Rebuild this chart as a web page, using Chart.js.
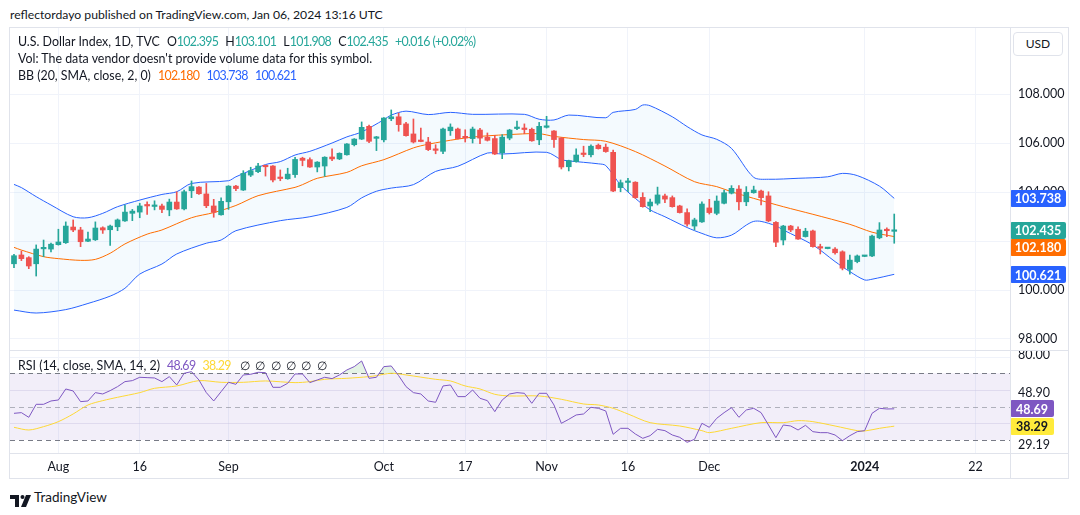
<!DOCTYPE html>
<html>
<head>
<meta charset="utf-8">
<script src="https://cdn.jsdelivr.net/npm/chart.js@4.4.1/dist/chart.umd.min.js"></script>
<style>
  body { margin: 0; width: 1080px; height: 515px; background: #fff; position: relative; overflow: hidden;
         font-family: Lato, "Noto Sans", sans-serif; color: #131722; }
  .abs { position: absolute; white-space: nowrap; }
  #frame { left: 9px; top: 27px; width: 1060px; height: 452px; border: 1px solid #e0e3eb; box-sizing: border-box; }
  #mainCanvas { position: absolute; left: 10px; top: 28px; }
  #rsiCanvas { position: absolute; left: 10px; top: 350px; }
  .hline { position: absolute; height: 1px; background: #e0e3eb; }
  .vline { position: absolute; width: 1px; background: #e0e3eb; }
  .legend { font-size: 12.4px; line-height: 16px; }
  .legend span { margin-left: 7px; }
  .legend span:first-child { margin-left: 0; }
  .n { letter-spacing: -0.65px; font-style: normal; }
  .g { color: #26a69a; }
  #usd { left: 1013px; top: 32px; width: 50px; height: 24px; border: 1px solid #e0e3eb; border-radius: 4px;
         box-sizing: border-box; font-size: 12px; line-height: 22px; text-align: center; background: #fff; }
</style>
</head>
<body>
<div class="abs" style="left:10px;top:7px;font-size:12.2px;">reflectordayo published on TradingView.com, Jan 06, 2024 13:16 UTC</div>
<div id="frame" class="abs"></div>
<canvas id="mainCanvas" width="1058" height="322"></canvas>
<canvas id="rsiCanvas" width="1058" height="128"></canvas>
<div class="hline" style="left:9px;top:350px;width:1060px;"></div>
<div class="hline" style="left:9px;top:453px;width:1060px;"></div>
<div class="vline" style="left:1010px;top:28px;height:450px;"></div>
<div id="usd" class="abs">USD</div>

<div class="abs legend" style="left:18px;top:34px;"><span>U.S. Dollar Index, 1D, TVC</span><span>O<i class="g n">102.395</i></span><span>H<i class="g n">103.101</i></span><span>L<i class="g n">101.908</i></span><span>C<i class="g n">102.435</i></span><span class="g n">+0.016 (+0.02%)</span></div>
<div class="abs legend" style="left:18px;top:51px;">Vol: The data vendor doesn't provide volume data for this symbol.</div>
<div class="abs legend" style="left:18px;top:68px;"><span>BB (20, SMA, close, 2, 0)</span><span class="n" style="color:#ff6d00">102.180</span><span class="n" style="color:#2962ff">103.738</span><span class="n" style="color:#2962ff">100.621</span></div>
<div class="abs legend" style="left:18px;top:358px;"><span>RSI (14, close, SMA, 14, 2)</span><span class="n" style="color:#7e57c2">48.69</span><span class="n" style="color:#fdd835">38.29</span><span style="margin-left:9px;letter-spacing:1.1px">∅ ∅ ∅ ∅ ∅ ∅</span></div>

<div class="abs" style="left:10px;top:491px;">
  <svg width="22" height="12" viewBox="0 0 22 12">
    <path d="M0 0h9v12H5V4H0z" fill="#131722"/>
    <circle cx="12.5" cy="2" r="2" fill="#131722"/>
    <path d="M16 0h5l-5 12h-5z" fill="#131722"/>
  </svg>
</div>
<div class="abs" style="left:34px;top:489px;font-size:13.5px;">TradingView</div>

<script>
// --- data ---
const opens  = [101.07,101.43,101.32,101.07,101.68,101.67,101.85,101.93,102.57,102.45,101.99,102.05,102.54,102.46,102.58,102.82,103.13,103.18,103.46,103.41,
                103.43,103.27,103.59,103.31,104.05,104.20,103.92,103.43,103.07,103.60,104.24,104.08,104.69,104.83,105.07,105.06,104.58,104.54,104.71,105.38,
                105.32,105.02,105.06,105.43,105.35,105.52,105.93,106.16,106.68,106.19,106.13,106.99,107.07,106.78,106.37,106.08,106.04,105.73,105.66,106.50,
                106.57,106.25,106.18,106.53,106.24,106.18,105.60,106.20,106.59,106.58,106.56,106.13,106.64,106.49,106.20,105.03,105.24,105.56,105.52,105.91,
                105.83,105.62,104.18,104.39,104.40,103.78,103.43,103.54,103.84,103.77,103.43,103.16,102.61,102.78,103.35,103.13,103.54,103.95,104.12,103.60,
                103.97,104.04,103.84,102.76,102.04,102.61,102.48,102.18,102.41,101.74,101.69,101.67,101.56,100.84,101.16,101.37,101.39,102.13,102.45,102.395];
const highs  = [101.46,101.59,101.36,101.84,102.04,101.92,102.48,102.78,102.86,102.56,102.36,102.78,102.58,102.65,102.90,103.47,103.29,103.54,103.60,103.64,
                103.51,103.71,104.01,104.08,104.45,104.22,104.35,103.70,103.76,104.26,104.27,104.87,105.01,105.17,105.09,105.08,104.90,104.97,105.42,105.42,
                105.39,105.24,105.44,105.76,105.60,105.98,106.18,106.86,106.73,106.27,107.04,107.35,107.22,106.84,106.98,106.61,106.23,105.93,106.61,106.78,
                106.61,106.54,106.65,106.60,106.41,106.31,106.34,106.56,106.89,106.78,106.61,106.84,107.09,106.51,106.22,105.30,105.76,105.87,105.93,105.96,
                105.96,105.71,104.49,104.56,104.42,103.97,103.71,104.20,103.92,103.84,103.46,103.31,102.93,103.60,103.70,103.84,104.08,104.26,104.26,104.22,
                104.24,104.08,104.01,102.79,102.64,102.64,102.58,102.52,102.45,101.87,101.72,101.73,101.60,101.43,101.43,101.40,102.24,102.75,102.54,103.101];
const lows   = [100.91,101.20,100.87,100.57,101.36,101.55,101.83,101.90,102.38,101.77,101.97,102.02,102.31,101.82,102.42,102.80,102.83,102.95,103.09,103.27,
                103.16,103.03,103.29,103.27,103.77,103.90,103.36,102.97,103.05,103.29,104.05,104.06,104.63,104.79,104.65,104.41,104.46,104.52,104.60,105.07,
                105.00,104.82,104.64,105.28,105.32,105.50,105.88,106.14,106.01,105.69,106.04,106.91,106.48,106.28,106.00,106.05,105.69,105.56,105.56,106.31,
                106.16,106.04,106.00,105.97,106.08,105.53,105.36,106.13,106.54,106.38,106.07,105.93,106.61,105.82,104.94,104.86,105.22,105.44,105.43,105.75,
                105.62,104.01,104.01,104.01,103.74,103.38,103.20,103.47,103.56,103.38,103.14,102.61,102.45,102.76,103.10,103.07,103.51,103.92,103.27,103.44,
                103.95,103.47,102.79,101.77,101.84,102.38,102.06,102.16,101.75,101.47,101.68,101.46,100.82,100.65,101.11,101.36,101.36,102.09,102.18,101.908];
const closes = [101.40,101.28,100.98,101.67,101.72,101.87,101.96,102.61,102.45,101.97,102.08,102.53,102.45,102.61,102.86,103.18,103.22,103.43,103.43,103.44,
                103.29,103.59,103.31,104.01,104.22,103.93,103.44,103.17,103.62,104.24,104.14,104.76,104.87,105.06,105.03,104.49,104.55,104.73,105.33,105.29,
                105.02,105.22,105.42,105.35,105.58,105.96,106.16,106.64,106.07,106.22,107.02,107.07,106.75,106.30,106.04,106.06,105.73,105.70,106.57,106.65,
                106.18,106.21,106.57,106.20,106.11,105.55,106.24,106.53,106.62,106.55,106.09,106.68,106.66,106.14,105.02,105.28,105.51,105.53,105.87,105.77,
                105.65,104.04,104.38,104.41,103.77,103.40,103.59,103.88,103.71,103.40,103.16,102.69,102.86,103.51,103.16,103.63,103.97,104.15,103.60,103.99,
                104.08,103.77,102.82,101.95,102.61,102.45,102.08,102.40,101.77,101.71,101.71,101.52,100.89,101.22,101.39,101.39,102.20,102.45,102.42,102.435];

// Bollinger bands, [bar index, price]
const bbUpper = [[0,104.31],[1,104.18],[3,103.81],[5,103.47],[8,102.99],[10,102.95],[12,103.13],[14,103.40],[17,103.67],[20,103.90],[22,104.01],
                 [24,104.35],[29,104.46],[30,104.62],[34,105.12],[36,105.24],[38,105.51],[40,105.66],[43,106.00],[45,106.25],[47,106.45],[50,106.95],
                 [51,107.14],[53,107.30],[56,107.16],[59,107.25],[62,107.17],[69,107.17],[71,106.97],[73,106.94],[75,107.14],[80,107.03],[81,107.25],
                 [84,107.37],[85,107.55],[86,107.52],[89,107.07],[91,106.67],[93,106.33],[95,106.15],[97,105.78],[100,104.60],[102,104.52],[106,104.56],
                 [110,104.62],[112,104.76],[114,104.67],[117,104.24],[119,103.74]];
const bbBasis = [[0,101.74],[1,101.63],[4,101.36],[6,101.28],[9,101.21],[11,101.25],[13,101.50],[15,101.88],[18,102.28],[20,102.45],[24,102.95],
                 [27,103.16],[30,103.45],[33,103.85],[38,104.19],[39,104.30],[41,104.56],[45,104.80],[47,105.07],[50,105.32],[54,105.80],[56,105.95],
                 [60,106.16],[63,106.27],[68,106.36],[71,106.38],[73,106.27],[77,106.14],[80,106.07],[84,105.65],[88,105.06],[92,104.42],[95,104.22],
                 [97,104.01],[100,103.74],[104,103.40],[108,103.09],[113,102.68],[116,102.36],[119,102.18]];
const bbLower = [[0,99.18],[3,99.06],[7,99.20],[10,99.45],[13,99.75],[15,100.07],[17,100.65],[20,101.06],[22,101.47],[26,101.91],[28,102.04],
                 [30,102.42],[36,102.83],[40,102.99],[45,103.37],[47,103.76],[49,104.03],[51,104.16],[54,104.30],[57,104.84],[60,105.05],[64,105.59],
                 [66,105.55],[72,105.62],[74,105.32],[75,105.27],[79,105.15],[80,105.08],[82,104.29],[84,103.74],[86,103.27],[88,102.99],[91,102.55],
                 [93,102.31],[95,102.13],[97,102.24],[99,102.65],[100,102.80],[101,102.80],[103,102.62],[104,102.45],[108,101.84],[111,101.16],
                 [113,100.75],[115,100.41],[116,100.44],[119,100.64]];

const rsiValues = [46,46.4,43.6,51.4,51.4,53.4,54,60.6,59.4,53,53.4,58.4,57.6,59.6,62,65,65.6,67.6,67.4,67.2,
                   65,68,63,70,71,66,58.4,53.4,59,64.6,63.4,69,69.4,70.6,70.4,61.6,61.6,64,69.6,69.6,
                   64.4,66,67.6,66.8,69,72,74,77.4,67,67.6,74,74.4,68.6,62,58.4,57.6,53.4,52.6,62.4,63,
                   56,56,60,55,53.6,47,54,57.6,58.4,58,52,58,58,51,40,42.4,45,45.6,49.6,49,
                   47.4,33.4,37,37,33.6,31,32.6,36.4,35.6,33,31.6,28.6,30.4,40,37.6,43,46.4,49.4,43.6,48,
                   49,46.4,39,31.4,39,38.4,36,38.8,35,34.4,34.4,33,29.6,32.6,35,35.6,46,49,48.6,48.69];
const rsiSma = [[0,37.6],[2,36],[4,38],[6,41],[8,45.6],[10,51],[12,53.6],[14,55.6],[17,58.4],[19,61],[22,62.4],[25,65.6],[28,64.6],
                [31,64.6],[34,65.4],[38,64.4],[40,65],[42,66.4],[45,67],[48,68],[49,68.6],[51,70],[53,69],[57,66.4],[59,65.4],[61,62.4],
                [63,60.6],[65,57.4],[67,56.4],[71,56.4],[74,54.4],[77,51.6],[79,51],[81,49],[83,45.6],[86,40.4],[90,38.4],[93,35.6],
                [94,34.4],[97,37],[101,40.4],[104,40.4],[106,41.6],[108,41],[111,38.4],[114,35.6],[115,35.4],[117,37],[119,38.29]];

const timeTicks  = [6, 17, 29, 50, 61, 72, 83, 94, 115, 130];
const timeLabels = ['Aug', '16', 'Sep', 'Oct', '17', 'Nov', '16', 'Dec', '2024', '22'];
const priceTicks = [98, 100, 102, 104, 106, 108];
const rsiTicks = [81, 58.2, 27];
const rsiTickLabels = ['80.00', '48.90', '29.19'];

const up = '#26a69a', down = '#ef5350';
const gridColor = '#f0f3fa';
const labelFont = { family: 'Lato, "Noto Sans", sans-serif', size: 12.5 };

Chart.defaults.animation = false;
Chart.defaults.responsive = false;
Chart.defaults.devicePixelRatio = 1;
Chart.defaults.plugins.legend.display = false;
Chart.defaults.plugins.tooltip.enabled = false;
Chart.defaults.color = '#131722';

const toXY = arr => arr.map(([i, v]) => ({ x: i, y: v }));
const candleColor = ctx => closes[ctx.dataIndex] >= opens[ctx.dataIndex] ? up : down;

// price / value tags on the right axis
const tagPlugin = {
  id: 'tags',
  afterDraw(chart, args, opts) {
    const ctx = chart.ctx, ys = chart.scales.y, left = chart.chartArea.right;
    const h = 17;
    let lastBottom = -Infinity;
    opts.items.map(t => ({ ...t, y: ys.getPixelForValue(t.value) }))
      .sort((a, b) => a.y - b.y)
      .forEach(t => {
        let y = t.y;
        if (y - h / 2 < lastBottom) y = lastBottom + h / 2;
        lastBottom = y + h / 2;
        ctx.save();
        ctx.fillStyle = t.bg;
        ctx.beginPath();
        ctx.roundRect(left, Math.round(y - h / 2), opts.w, h, 2);
        ctx.fill();
        ctx.fillStyle = t.fg;
        ctx.font = 'bold 12.5px Lato, "Noto Sans", sans-serif';
        ctx.textAlign = 'center';
        ctx.textBaseline = 'middle';
        ctx.fillText(t.text, left + opts.w / 2, Math.round(y) + 1);
        ctx.restore();
      });
  }
};

// RSI band, dashed levels and grid
const levelsPlugin = {
  id: 'levels',
  beforeDatasetsDraw(chart) {
    const ctx = chart.ctx, ys = chart.scales.y, a = chart.chartArea;
    ctx.save();
    ctx.fillStyle = 'rgba(126,87,194,0.1)';
    ctx.fillRect(a.left, ys.getPixelForValue(70), a.right - a.left, ys.getPixelForValue(30) - ys.getPixelForValue(70));
    ctx.lineWidth = 1;
    [80, 60, 40].forEach(v => {
      const y = Math.round(ys.getPixelForValue(v)) + 0.5;
      ctx.strokeStyle = v === 80 ? gridColor : 'rgba(200,195,225,0.45)';
      ctx.beginPath(); ctx.moveTo(a.left, y); ctx.lineTo(a.right, y); ctx.stroke();
    });
    ctx.setLineDash([5, 4]);
    [[70, '#787b86'], [50, 'rgba(120,123,134,0.55)'], [30, '#787b86']].forEach(([v, c]) => {
      const y = Math.round(ys.getPixelForValue(v)) + 0.5;
      ctx.strokeStyle = c;
      ctx.beginPath(); ctx.moveTo(a.left, y); ctx.lineTo(a.right, y); ctx.stroke();
    });
    ctx.restore();
  }
};

const xScale = (showLabels) => ({
  type: 'linear',
  offset: false,
  min: -0.54,
  max: 134.65,
  afterBuildTicks: s => { s.ticks = timeTicks.map(v => ({ value: v })); },
  afterFit: s => { s.height = showLabels ? 25 : 0; s.paddingLeft = 0; s.paddingRight = 0; },
  border: { display: false },
  grid: { color: gridColor, drawTicks: false, offset: false },
  ticks: {
    display: showLabels,
    autoSkip: false,
    maxRotation: 0,
    padding: 6,
    color: '#131722',
    font: ctx => ({ ...labelFont, weight: ctx.tick && ctx.tick.value === 115 ? 'bold' : 'normal' }),
    callback: v => timeLabels[timeTicks.indexOf(v)]
  }
});

new Chart(document.getElementById('mainCanvas'), {
  type: 'bar',
  data: {
    datasets: [
      { type: 'line', data: toXY(bbUpper), borderColor: '#2962ff', borderWidth: 1, pointRadius: 0, tension: 0.3,
        fill: { target: 2 }, backgroundColor: 'rgba(33,150,243,0.05)', order: 3 },
      { type: 'line', data: toXY(bbBasis), borderColor: '#ff6d00', borderWidth: 1, pointRadius: 0, tension: 0.3, fill: false, order: 2 },
      { type: 'line', data: toXY(bbLower), borderColor: '#2962ff', borderWidth: 1, pointRadius: 0, tension: 0.3, fill: false, order: 3 },
      { data: highs.map((h, i) => ({ x: i, y: [lows[i], h] })), backgroundColor: candleColor,
        barThickness: 1, grouped: false, order: 1 },
      { data: opens.map((o, i) => ({ x: i, y: [Math.min(o, closes[i]), Math.max(o, closes[i])] })), backgroundColor: candleColor,
        barThickness: 5, minBarLength: 1.5, grouped: false, order: 0 }
    ]
  },
  options: {
    layout: { padding: 0, autoPadding: false },
    scales: {
      x: xScale(false),
      y: {
        position: 'right',
        min: 97.551,
        max: 110.694,
        afterBuildTicks: s => { s.ticks = priceTicks.map(v => ({ value: v })); },
        afterFit: s => { s.width = 58; s.paddingTop = 0; s.paddingBottom = 0; },
        border: { display: false },
        grid: { color: gridColor, drawTicks: false },
        ticks: { padding: 8, font: labelFont, color: '#131722', callback: v => v.toFixed(3) }
      }
    },
    plugins: {
      tags: { w: 56, items: [
        { value: 103.738, text: '103.738', bg: '#2962ff', fg: '#fff' },
        { value: 102.435, text: '102.435', bg: '#26a69a', fg: '#fff' },
        { value: 102.180, text: '102.180', bg: '#ff6d00', fg: '#fff' },
        { value: 100.621, text: '100.621', bg: '#2962ff', fg: '#fff' }
      ] }
    }
  },
  plugins: [tagPlugin]
});

new Chart(document.getElementById('rsiCanvas'), {
  type: 'line',
  data: {
    datasets: [
      { data: rsiValues.map((v, i) => ({ x: i, y: v })), borderColor: '#7e57c2', borderWidth: 1, pointRadius: 0,
        fill: { target: { value: 70 }, above: 'rgba(76,175,80,0.15)', below: 'rgba(0,0,0,0)' }, order: 0 },
      { data: rsiValues.map((v, i) => ({ x: i, y: v })), borderWidth: 0, borderColor: 'rgba(0,0,0,0)', pointRadius: 0,
        fill: { target: { value: 30 }, above: 'rgba(0,0,0,0)', below: 'rgba(242,54,69,0.15)' }, order: 2 },
      { data: toXY(rsiSma), borderColor: '#fdd835', borderWidth: 1, pointRadius: 0, tension: 0.3, fill: false, order: 1 }
    ]
  },
  options: {
    layout: { padding: 0, autoPadding: false },
    scales: {
      x: xScale(true),
      y: {
        position: 'right',
        min: 22.2,
        max: 83.97,
        afterBuildTicks: s => { s.ticks = rsiTicks.map(v => ({ value: v })); },
        afterFit: s => { s.width = 58; s.paddingTop = 0; s.paddingBottom = 0; },
        border: { display: false },
        grid: { display: false, drawTicks: false },
        ticks: { padding: 8, font: labelFont, color: '#131722', callback: v => rsiTickLabels[rsiTicks.indexOf(v)] }
      }
    },
    plugins: {
      tags: { w: 44, items: [
        { value: 48.69, text: '48.69', bg: '#7e57c2', fg: '#fff' },
        { value: 38.29, text: '38.29', bg: '#ffeb3b', fg: '#131722' }
      ] }
    }
  },
  plugins: [levelsPlugin, tagPlugin]
});
</script>
</body>
</html>
